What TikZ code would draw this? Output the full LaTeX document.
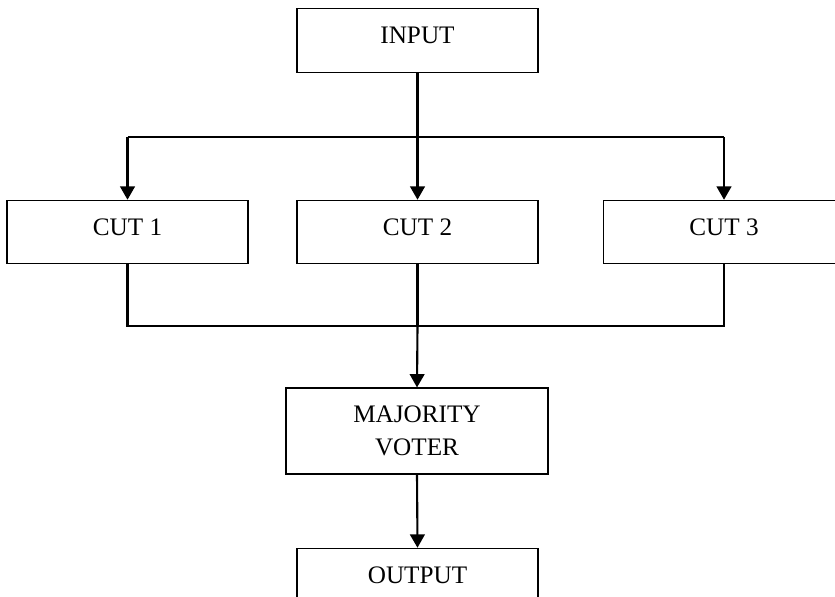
\documentclass[tikz,border=0pt]{standalone}
\usepackage{fontspec}
\setmainfont{Liberation Serif}
\usetikzlibrary{arrows.meta}

\tikzset{
  block/.style={draw, line width=1pt, minimum width=72.3mm, minimum height=19mm, align=center, font=\fontsize{21.5}{28}\selectfont},
  unit/.style={block, text depth=3mm},
  wire/.style={line width=1.8pt},
  flow/.style={wire, -{Triangle[length=4mm,width=4.4mm]}}
}

\begin{document}
\begin{tikzpicture}[x=0.3mm, y=-0.3mm]

      \useasboundingbox (0,0) rectangle (835,596);
      \clip (0,0) rectangle (835,596);

      \node[unit] (input) at (417.5,40.5) {INPUT};
      \node[unit] (cut1) at (127.5,232) {CUT 1};
      \node[unit] (cut2) at (417.5,232) {CUT 2};
      \node[unit] (cut3) at (724,232) {CUT 3};
      \node[block, minimum width=78.6mm, minimum height=25.8mm] (voter) at (417,431) {MAJORITY\\VOTER};
      \node[unit] (output) at (417.5,580) {OUTPUT};

      \coordinate (split) at (417.5,137);
      \coordinate (join) at (417.5,326);

      % fan out to the three cuts
      \draw[wire] (input.south) -- (split);
      \draw[wire] (cut1.north |- split) -- (cut3.north |- split);
      \draw[flow] (cut1.north |- split) -- (cut1.north);
      \draw[flow] (split) -- (cut2.north);
      \draw[flow] (cut3.north |- split) -- (cut3.north);

      % gather into the voter
      \draw[wire] (cut1.south) -- (cut1.south |- join) -- (cut3.south |- join) -- (cut3.south);
      \draw[wire] (cut2.south) -- (join);
      \draw[flow] (join) -- (voter.north);
      \draw[flow] (voter.south) -- (output.north);

    \end{tikzpicture}
\end{document}
